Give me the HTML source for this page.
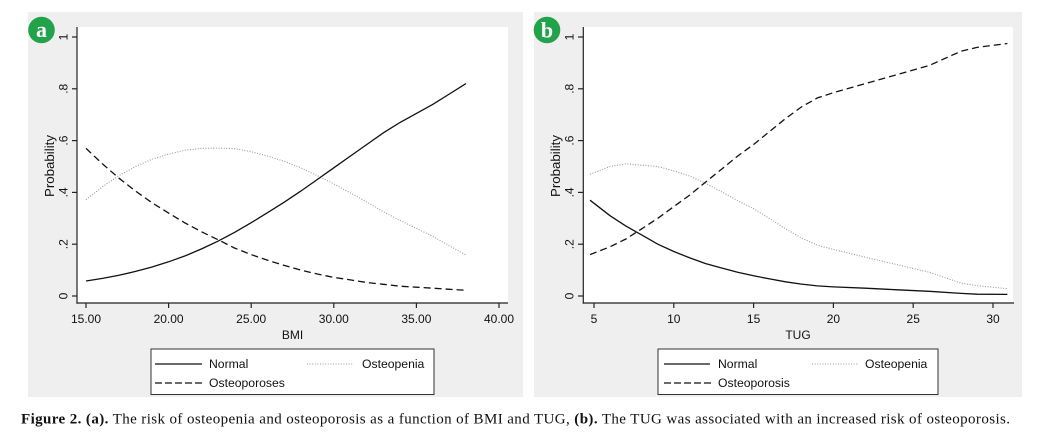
<!DOCTYPE html>
<html><head><meta charset="utf-8"><style>
html,body{margin:0;padding:0;background:#fff;}
svg{display:block;}
text{font-family:"Liberation Sans",Arial,sans-serif;fill:#111;}
.cap{font-family:"Liberation Serif","Times New Roman",serif;}
</style></head><body>
<svg width="1037" height="439" viewBox="0 0 1037 439" xmlns="http://www.w3.org/2000/svg">
<rect x="0" y="0" width="1037" height="439" fill="#fff"/>
<!-- Panel a -->
<rect x="28" y="12" width="495" height="385" fill="#efefef"/>
<rect x="77" y="27" width="431" height="276" fill="#fff"/>
<g stroke="#222" stroke-width="1.2" fill="none">
<line x1="77" y1="27" x2="77" y2="303.6"/>
<line x1="76.4" y1="303" x2="508" y2="303"/>
<line x1="72" y1="37" x2="77" y2="37"/><line x1="72" y1="88.8" x2="77" y2="88.8"/><line x1="72" y1="140.6" x2="77" y2="140.6"/><line x1="72" y1="192.4" x2="77" y2="192.4"/><line x1="72" y1="244.2" x2="77" y2="244.2"/><line x1="72" y1="296" x2="77" y2="296"/>
<line x1="86" y1="303" x2="86" y2="308"/><line x1="168.6" y1="303" x2="168.6" y2="308"/><line x1="251.2" y1="303" x2="251.2" y2="308"/><line x1="333.8" y1="303" x2="333.8" y2="308"/><line x1="416.4" y1="303" x2="416.4" y2="308"/><line x1="499" y1="303" x2="499" y2="308"/>
</g>
<g font-size="12" text-anchor="middle">
<text transform="translate(67.5,37) rotate(-90)">1</text>
<text transform="translate(67.5,88.8) rotate(-90)">.8</text>
<text transform="translate(67.5,140.6) rotate(-90)">.6</text>
<text transform="translate(67.5,192.4) rotate(-90)">.4</text>
<text transform="translate(67.5,244.2) rotate(-90)">.2</text>
<text transform="translate(67.5,296) rotate(-90)">0</text>
<text transform="translate(54,166) rotate(-90)" font-size="12.5" textLength="62" lengthAdjust="spacingAndGlyphs">Probability</text>
<text x="86" y="323">15.00</text><text x="168.6" y="323">20.00</text><text x="251.2" y="323">25.00</text><text x="333.8" y="323">30.00</text><text x="416.4" y="323">35.00</text><text x="499" y="323">40.00</text>
<text x="292.5" y="339">BMI</text>
</g>
<!-- curves a -->
<polyline fill="none" stroke="#999" stroke-width="1.1" stroke-dasharray="1 1.6" points="86,199.7 102.5,186.7 119,175.6 135.6,166.5 152.1,159.2 168.6,154.1 185.1,150.2 201.6,148.4 218.2,148.1 234.7,148.6 251.2,151.7 267.7,156.1 284.2,161.3 300.8,167.8 317.3,175.6 333.8,183.9 350.3,192.9 366.8,202 383.4,211.8 399.9,220.4 416.4,228.4 432.9,236.4 449.4,245.8 466,255.1"/>
<polyline fill="none" stroke="#111" stroke-width="1.3" stroke-dasharray="7 4" points="86,148.4 102.5,163.9 119,178.2 135.6,191.1 152.1,202.8 168.6,213.1 185.1,223 201.6,231.8 218.2,239.8 234.7,248.1 251.2,254.6 267.7,260.3 284.2,265.4 300.8,270.1 317.3,274 333.8,277.4 350.3,279.9 366.8,282.5 383.4,284.3 399.9,286.2 416.4,287.2 432.9,288.2 449.4,289.3 466,290.3"/>
<polyline fill="none" stroke="#111" stroke-width="1.3" points="86,281 102.5,278.4 119,275.3 135.6,271.4 152.1,267 168.6,261.8 185.1,255.9 201.6,248.9 218.2,241.1 234.7,232.3 251.2,222.7 267.7,212.6 284.2,202.2 300.8,191.1 317.3,179.5 333.8,167.8 350.3,156.1 366.8,144.5 383.4,132.8 399.9,122.5 416.4,113.4 432.9,104.3 449.4,94 466,83.6"/>
<!-- legend a -->
<rect x="151" y="349" width="283" height="45.5" fill="#fff" stroke="#333" stroke-width="1"/>
<line x1="155" y1="364" x2="202" y2="364" stroke="#111" stroke-width="1.3"/>
<line x1="155" y1="383" x2="203" y2="383" stroke="#111" stroke-width="1.3" stroke-dasharray="7 3"/>
<line x1="307" y1="364" x2="353" y2="364" stroke="#999" stroke-width="1.1" stroke-dasharray="1 1.6"/>
<g font-size="12.2"><text x="209" y="368">Normal</text><text x="362" y="368">Osteopenia</text><text x="209" y="387">Osteoporoses</text></g>
<circle cx="41.5" cy="30" r="13.3" fill="#22a24a"/>
<text x="41.5" y="37" text-anchor="middle" font-size="22" font-weight="bold" class="cap" style="fill:#fff">a</text>

<!-- Panel b -->
<rect x="534" y="12" width="488" height="385" fill="#efefef"/>
<rect x="583" y="27" width="430" height="276" fill="#fff"/>
<g stroke="#222" stroke-width="1.2" fill="none">
<line x1="583.3" y1="27" x2="583.3" y2="303.6"/>
<line x1="582.7" y1="303" x2="1014" y2="303"/>
<line x1="578" y1="37" x2="583" y2="37"/><line x1="578" y1="88.8" x2="583" y2="88.8"/><line x1="578" y1="140.6" x2="583" y2="140.6"/><line x1="578" y1="192.4" x2="583" y2="192.4"/><line x1="578" y1="244.2" x2="583" y2="244.2"/><line x1="578" y1="296" x2="583" y2="296"/>
<line x1="594" y1="303" x2="594" y2="308"/><line x1="673.8" y1="303" x2="673.8" y2="308"/><line x1="753.6" y1="303" x2="753.6" y2="308"/><line x1="833.4" y1="303" x2="833.4" y2="308"/><line x1="913.2" y1="303" x2="913.2" y2="308"/><line x1="993" y1="303" x2="993" y2="308"/>
</g>
<g font-size="12" text-anchor="middle">
<text transform="translate(573.5,37) rotate(-90)">1</text>
<text transform="translate(573.5,88.8) rotate(-90)">.8</text>
<text transform="translate(573.5,140.6) rotate(-90)">.6</text>
<text transform="translate(573.5,192.4) rotate(-90)">.4</text>
<text transform="translate(573.5,244.2) rotate(-90)">.2</text>
<text transform="translate(573.5,296) rotate(-90)">0</text>
<text transform="translate(560,166) rotate(-90)" font-size="12.5" textLength="62" lengthAdjust="spacingAndGlyphs">Probability</text>
<text x="594" y="323">5</text><text x="673.8" y="323">10</text><text x="753.6" y="323">15</text><text x="833.4" y="323">20</text><text x="913.2" y="323">25</text><text x="993" y="323">30</text>
<text x="798" y="339">TUG</text>
</g>
<polyline fill="none" stroke="#999" stroke-width="1.1" stroke-dasharray="1 1.6" points="590,174.3 610,166.5 625.9,163.9 641.9,165.2 657.8,166.5 673.8,170.9 689.8,176.1 705.7,183.3 721.7,191.9 737.6,200.7 753.6,208.7 769.6,218.6 785.5,228.7 801.5,238 817.4,245.2 833.4,249.4 865.3,257.2 897.2,264.7 929.2,272.2 961.1,283.1 977,285.6 1007.4,288.7"/>
<polyline fill="none" stroke="#111" stroke-width="1.3" stroke-dasharray="7 4" points="590,254.6 610,246.8 625.9,239 641.9,228.7 657.8,218.3 673.8,206.6 689.8,195 705.7,182 721.7,169.1 737.6,156.1 753.6,144.5 769.6,131.5 785.5,118.6 801.5,106.9 817.4,97.9 833.4,92.7 865.3,83.6 897.2,74.6 929.2,65.5 961.1,51.2 977,47.4 1007.4,43.5"/>
<polyline fill="none" stroke="#111" stroke-width="1.3" points="590,200.2 610,215.7 625.9,226.1 641.9,235.1 657.8,244.2 673.8,251.5 689.8,257.9 705.7,263.6 721.7,268 737.6,272.2 753.6,275.8 769.6,278.9 785.5,281.8 801.5,284.1 817.4,285.9 833.4,286.9 865.3,288.2 897.2,289.8 929.2,291.3 961.1,293.4 977,294.2 1007.4,294.4"/>
<rect x="658" y="349" width="280" height="45.5" fill="#fff" stroke="#333" stroke-width="1"/>
<line x1="664" y1="364" x2="710" y2="364" stroke="#111" stroke-width="1.3"/>
<line x1="664" y1="383" x2="711" y2="383" stroke="#111" stroke-width="1.3" stroke-dasharray="7 3"/>
<line x1="812" y1="364" x2="859" y2="364" stroke="#999" stroke-width="1.1" stroke-dasharray="1 1.6"/>
<g font-size="12.2"><text x="718" y="368">Normal</text><text x="865" y="368">Osteopenia</text><text x="718" y="387">Osteoporosis</text></g>
<circle cx="547" cy="30" r="13.3" fill="#22a24a"/>
<text x="547" y="37.5" text-anchor="middle" font-size="22" font-weight="bold" class="cap" style="fill:#fff">b</text>

<!-- caption -->
<text class="cap" x="21" y="423.5" font-size="15" textLength="989" lengthAdjust="spacing"><tspan font-weight="bold">Figure 2. (a).</tspan> The risk of osteopenia and osteoporosis as a function of BMI and TUG,  <tspan font-weight="bold">(b).</tspan> The TUG was associated with an increased risk of osteoporosis.</text>
</svg>
</body></html>
